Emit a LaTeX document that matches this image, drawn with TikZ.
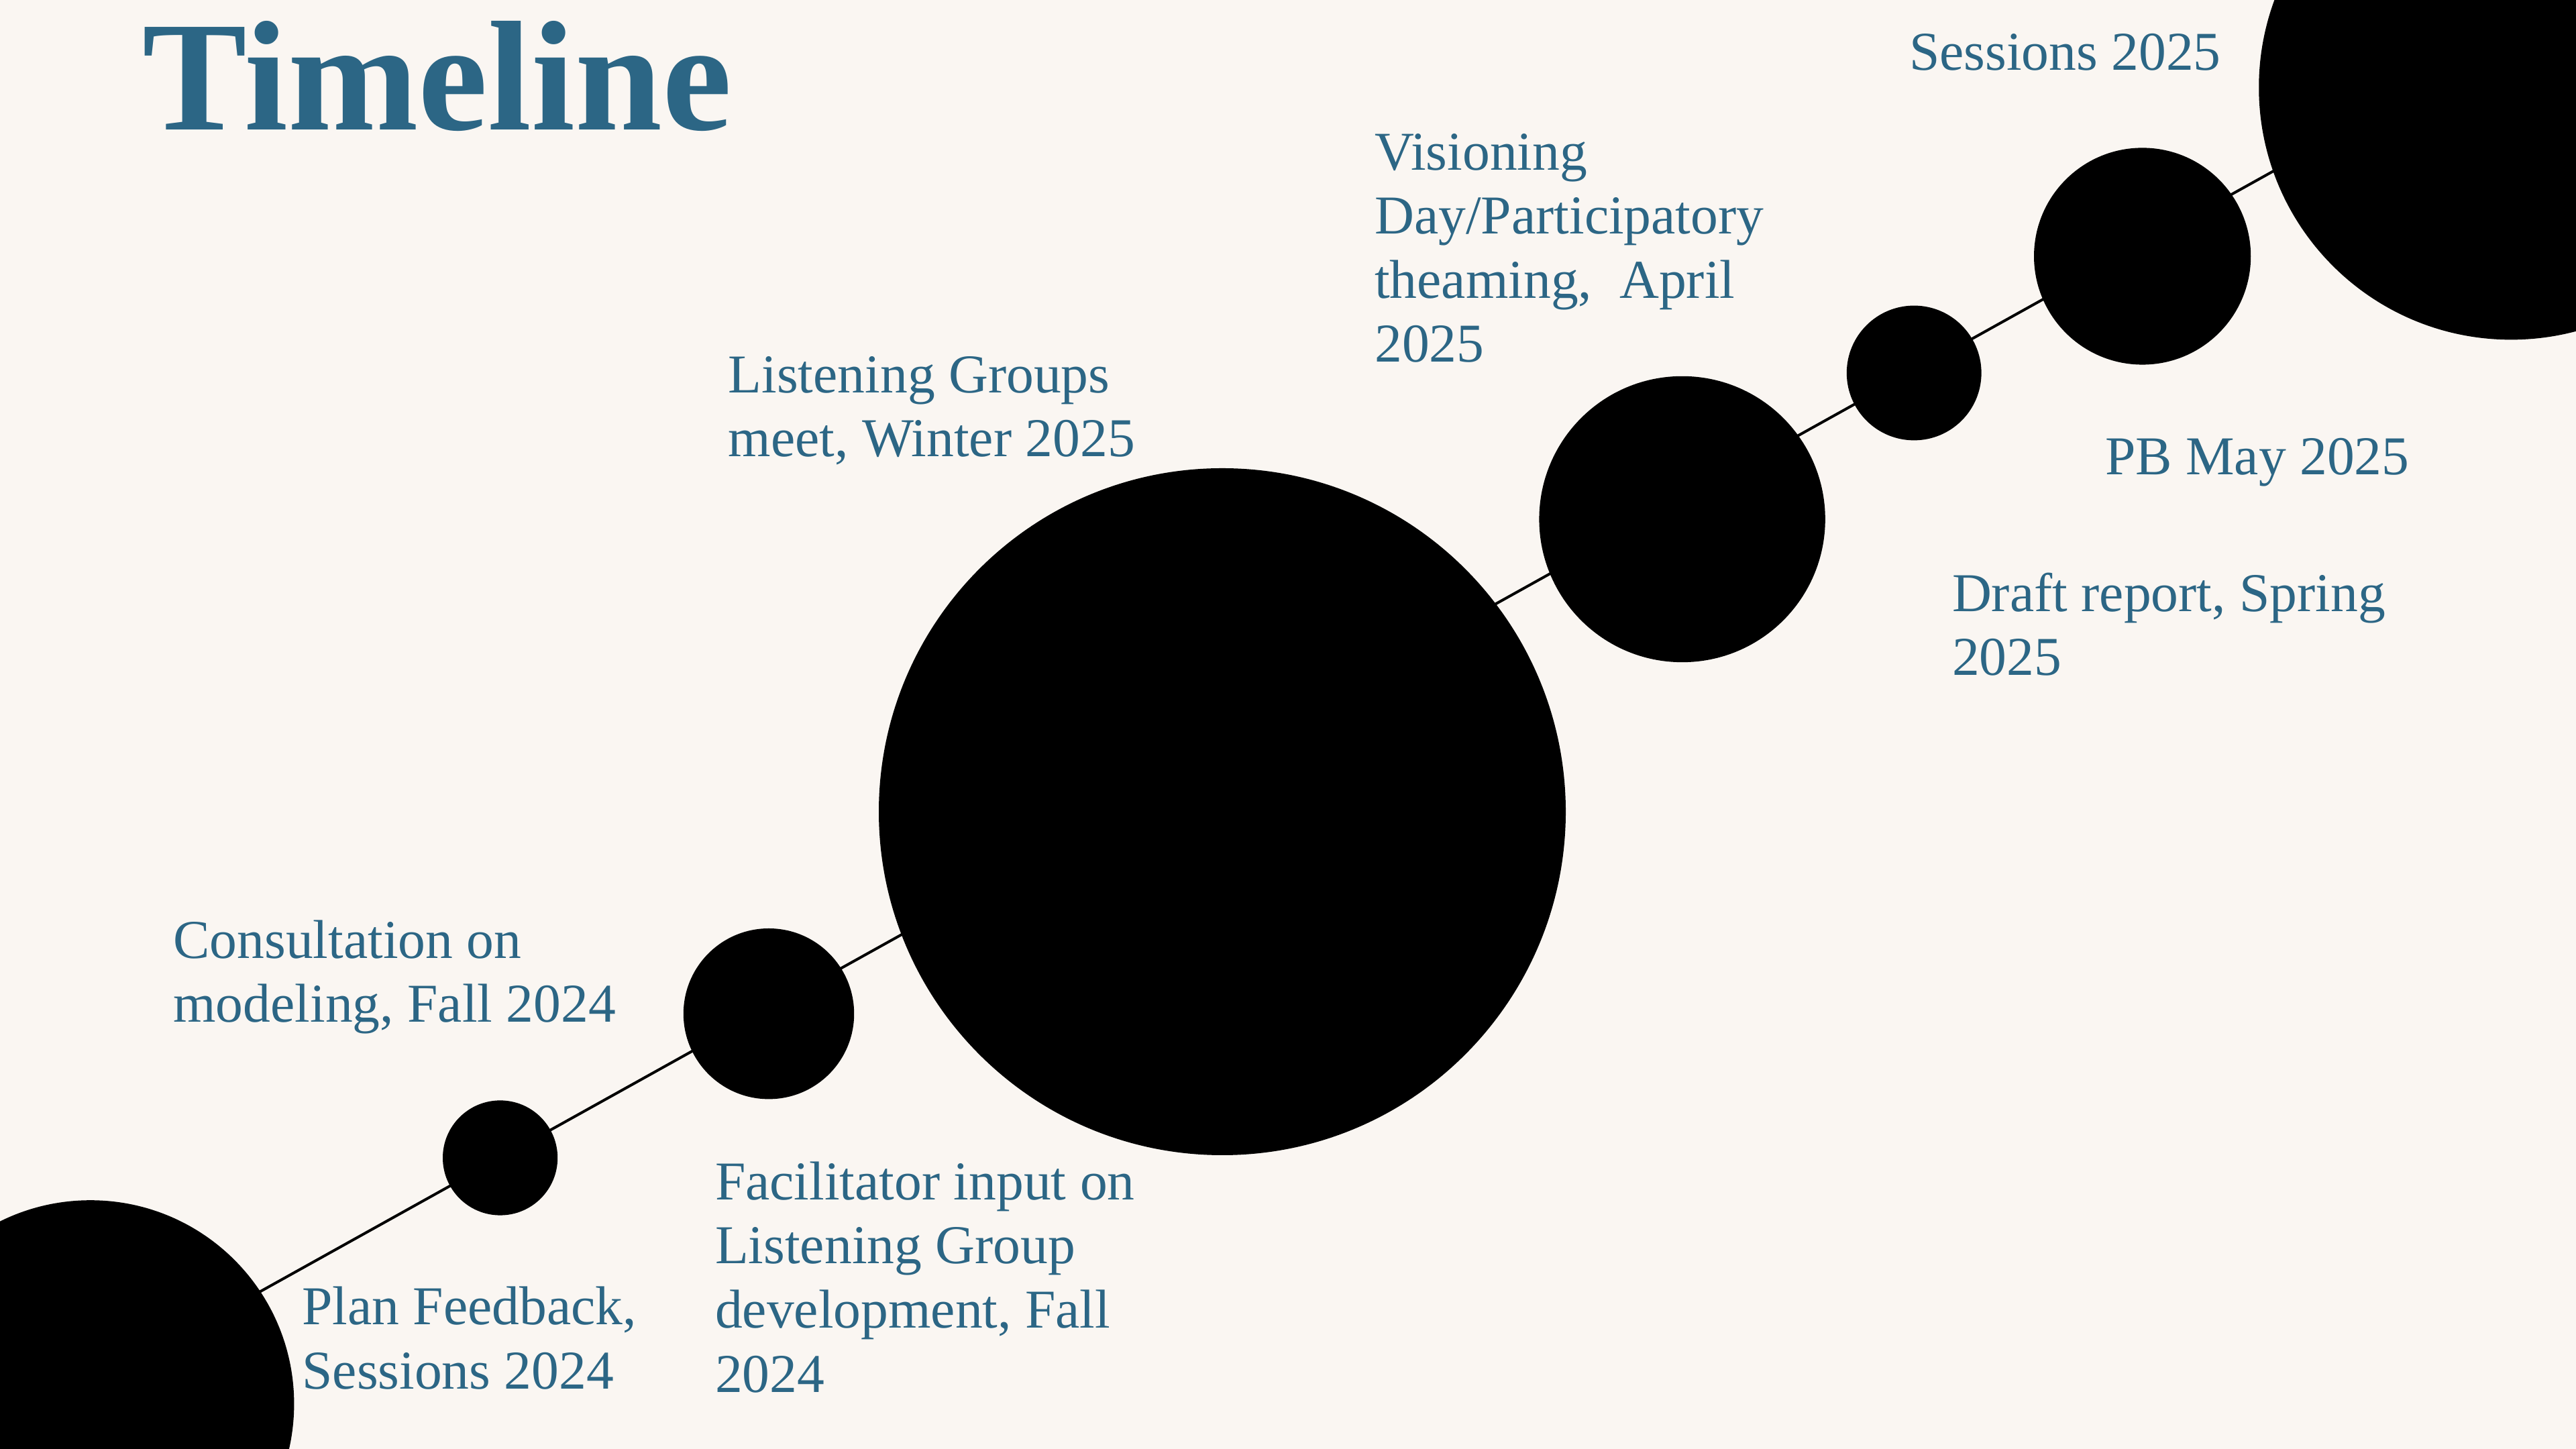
\documentclass[tikz,border=0pt]{standalone}
\usepackage{fontspec}
\setmainfont{Liberation Serif}
\definecolor{bgcol}{RGB}{250,246,242}
\definecolor{txtblue}{RGB}{44,102,133}
\tikzset{
    dot/.style={circle,fill=black,inner sep=0pt,minimum size=#1},
    lbl/.style={anchor=base west,inner sep=0pt,align=left,text=txtblue,
        font=\fontsize{20.4}{23.9}\selectfont},
    tlline/.style={line width=1pt}
}

\begin{document}
\begin{tikzpicture}[x=1pt,y=1pt]
    \clip (0,0) rectangle (960,540);
    \fill[bgcol] (0,0) rectangle (960,540);
    % title
    \node[anchor=base west,inner sep=0pt,text=txtblue,
        font=\fontsize{58.4}{62}\selectfont\bfseries] (title) at (53,491.6) {Timeline};
    % line
    \coordinate (tl-a) at (0,4.7);
    \coordinate (tl-b) at (960,539);
    \draw[tlline] (tl-a) -- (tl-b);
    % dots
    \node[dot=151.8pt] (d1) at (33.7,16.8) {};
    \node[dot=42.8pt] (d2) at (186.4,108.5) {};
    \node[dot=63.6pt] (d3) at (286.5,162.2) {};
    \node[dot=256pt] (d4) at (455.5,237.5) {};
    \node[dot=106.6pt] (d5) at (626.9,346.5) {};
    \node[dot=50.2pt] (d6) at (713.3,401.0) {};
    \node[dot=80.8pt] (d7) at (798.4,444.5) {};
    \node[dot=188pt] (d8) at (935.8,507.4) {};
    % labels (anchored at the baseline of the last line)
    \node[lbl] (t1) at (112.4,22.4) {Plan Feedback,\\Sessions 2024};
    \node[lbl] (t2) at (64.4,159.0) {Consultation on\\modeling, Fall 2024};
    \node[lbl] (t3) at (266.3,21.2) {Facilitator input on\\Listening Group\\development, Fall\\2024};
    \node[lbl] (t4) at (271.2,369.8) {Listening Groups\\meet, Winter 2025};
    \node[lbl] (t5) at (512.1,405.0) {Visioning\\Day/Participatory\\theaming,\ \ April\\2025};
    \node[lbl] (t6) at (727.3,288.3) {Draft report, Spring\\2025};
    \node[lbl] (t7) at (784.3,363.1) {PB May 2025};
    \node[lbl] (t8) at (711.3,513.9) {Sessions 2025};
\end{tikzpicture}
\end{document}
